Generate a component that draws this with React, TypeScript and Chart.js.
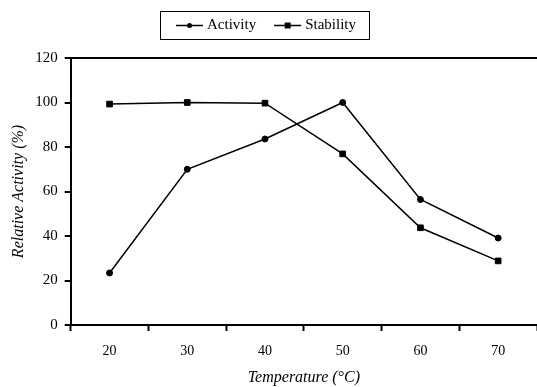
import React, { useEffect, useRef } from "react";
import { Chart, registerables } from "chart.js";

Chart.register(...registerables);

const temperatures = ["20", "30", "40", "50", "60", "70"];
const activity = [23.4, 70, 83.6, 100, 56.4, 39.1];
const stability = [99.3, 100, 99.7, 76.9, 43.7, 28.8];
const seriesNames = ["Activity", "Stability"];
const yMin = 0;
const yMax = 120;
const yStep = 20;
const xTitle = "Temperature (°C)";
const yTitle = "Relative Activity (%)";

const FONT = "'Liberation Serif', 'Times New Roman', serif";

const boxLegend = {
  id: "boxLegend",
  afterDraw(chart: any) {
    const ctx = chart.ctx as CanvasRenderingContext2D;
    const boxX = 160;
    const boxY = 11;
    const boxW = 209;
    const boxH = 28;
    ctx.save();
    ctx.strokeStyle = "#000";
    ctx.lineWidth = 1;
    ctx.strokeRect(boxX + 0.5, boxY + 0.5, boxW, boxH);
    ctx.font = `15px ${FONT}`;
    ctx.textBaseline = "middle";
    ctx.textAlign = "left";
    ctx.fillStyle = "#000";
    const cy = boxY + boxH / 2 + 0.5;
    const lineLen = 27;
    let x = boxX + 16;
    chart.data.datasets.forEach((ds: any) => {
      ctx.beginPath();
      ctx.lineWidth = 1.5;
      ctx.moveTo(x, cy);
      ctx.lineTo(x + lineLen, cy);
      ctx.stroke();
      const mx = x + lineLen / 2;
      ctx.beginPath();
      if (ds.pointStyle === "circle") {
        ctx.arc(mx, cy, 2.5, 0, Math.PI * 2);
      } else {
        ctx.rect(mx - 3, cy - 3, 6, 6);
      }
      ctx.fill();
      const tx = x + lineLen + 4;
      ctx.fillText(ds.label, tx, cy);
      x = tx + ctx.measureText(ds.label).width + 18;
    });
    ctx.restore();
  },
};

export default function App() {
  const ref = useRef<HTMLCanvasElement | null>(null);

  useEffect(() => {
    document.body.style.margin = "0";
    if (!ref.current) return;
    const chart = new Chart(ref.current, {
      type: "line",
      data: {
        labels: temperatures,
        datasets: [
          {
            label: seriesNames[0],
            data: activity,
            borderColor: "#000",
            backgroundColor: "#000",
            borderWidth: 1.5,
            pointStyle: "circle",
            pointRadius: 3,
            pointBorderWidth: 1,
            tension: 0,
          },
          {
            label: seriesNames[1],
            data: stability,
            borderColor: "#000",
            backgroundColor: "#000",
            borderWidth: 1.5,
            pointStyle: "rect",
            pointRadius: 4,
            pointBorderWidth: 1,
            tension: 0,
          },
        ],
      },
      options: {
        responsive: false,
        animation: false,
        layout: { padding: { top: 58, right: 0, left: 0, bottom: 0 } },
        plugins: {
          legend: { display: false },
          tooltip: { enabled: false },
        },
        scales: {
          x: {
            type: "category",
            offset: true,
            grid: {
              offset: true,
              drawOnChartArea: false,
              tickColor: "#000",
              tickLength: 6,
              tickWidth: 2,
            },
            border: { color: "#000", width: 2 },
            ticks: {
              color: "#000",
              font: { family: FONT, size: 14 },
              padding: 12,
              maxRotation: 0,
            },
            title: {
              display: true,
              text: xTitle,
              color: "#000",
              font: { family: FONT, size: 16, style: "italic" },
              padding: { top: -4, bottom: 0 },
            },
          },
          y: {
            min: yMin,
            max: yMax,
            grid: {
              drawOnChartArea: true,
              color: (c: any) => (c.tick && c.tick.value === yMax ? "#000" : "rgba(0,0,0,0)"),
              lineWidth: 2,
              tickColor: "#000",
              tickLength: 6,
              tickWidth: 2,
            },
            border: { color: "#000", width: 2 },
            ticks: {
              stepSize: yStep,
              color: "#000",
              font: { family: FONT, size: 15 },
              padding: 7,
            },
            title: {
              display: true,
              text: yTitle,
              color: "#000",
              font: { family: FONT, size: 16, style: "italic" },
              padding: { top: 9, bottom: 0 },
            },
          },
        },
      },
      plugins: [boxLegend],
    });
    return () => chart.destroy();
  }, []);

  return (
    <div style={{ width: 537, height: 387, position: "relative", overflow: "hidden" }}>
      <canvas ref={ref} width={542} height={387} />
    </div>
  );
}
